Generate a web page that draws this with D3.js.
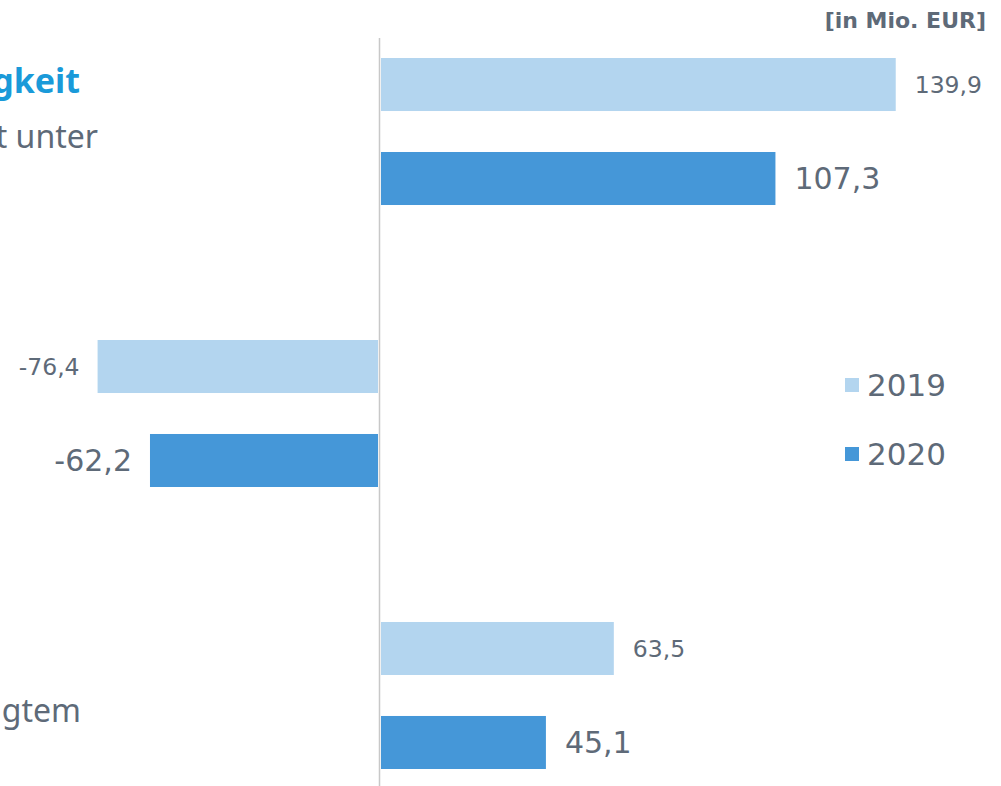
<!DOCTYPE html>
<html>
<head>
<meta charset="utf-8">
<script src="https://cdn.jsdelivr.net/npm/d3@7"></script>
<style>
  body { margin: 0; background: #fff; }
  svg { display: block; }
  text { font-family: "Noto Sans", "Open Sans", sans-serif; }
  text.num { font-family: "DejaVu Sans", sans-serif; }
</style>
</head>
<body>
<figure id="chart" style="margin:0"></figure>
<script>
const categories = ["Operativ", "Investition", "Free"];
const series = ["2019", "2020"];
const values2019 = [139.9, -76.4, 63.5];
const values2020 = [107.3, -62.2, 45.1];
const unitLabel = "[in Mio. EUR]";
// left-hand text block, cut off by the picture's left edge
const headingLines = ["Cashflow aus laufender Geschäftstätigkeit"];
const noteLines = ["Mittelzufluss aus laufender Geschäftstätigkeit liegt unter", "Free Cashflow mit bereinigtem"];

const width = 1001, height = 786;
const colors = { "2019": "#b3d5ef", "2020": "#4597d8" };
const textGray = "#5e6a78";

const data = categories.map((c, i) => ({ cat: c, "2019": values2019[i], "2020": values2020[i] }));

const svg = d3.select("figure#chart")
  .append("svg")
  .attr("width", width)
  .attr("height", height);

const x = d3.scaleLinear()
  .domain([-100, 150])
  .range([10.5, 933]);

const y = d3.scaleBand()
  .domain(categories)
  .range([-9.5, 836.5])
  .paddingInner(0.4787)
  .paddingOuter(0.2394);

const ySub = d3.scaleBand()
  .domain(series)
  .range([0, y.bandwidth()])
  .paddingInner(0.436)
  .paddingOuter(0);

const fmt = v => d3.format(".1f")(v).replace(".", ",").replace("\u2212", "-");

// zero line
svg.append("line")
  .attr("x1", x(0)).attr("x2", x(0))
  .attr("y1", 38).attr("y2", height)
  .attr("stroke", "#c8c8c8")
  .attr("stroke-width", 1.5);

const groups = svg.append("g")
  .selectAll("g")
  .data(data)
  .enter().append("g")
  .attr("transform", d => "translate(0," + y(d.cat) + ")");

const bars = groups.selectAll("g")
  .data(d => series.map(s => ({ key: s, value: d[s] })))
  .enter().append("g");

bars.append("rect")
  .attr("x", d => d.value >= 0 ? x(0) + 1.5 : x(d.value))
  .attr("y", d => ySub(d.key))
  .attr("width", d => Math.abs(x(d.value) - x(0)) - 1.5)
  .attr("height", ySub.bandwidth())
  .attr("fill", d => colors[d.key]);

bars.append("text")
  .attr("class", "num")
  .attr("x", d => d.value >= 0 ? x(d.value) + 19 : x(d.value) - 18)
  .attr("y", d => ySub(d.key) + ySub.bandwidth() / 2)
  .attr("dy", "0.36em")
  .attr("text-anchor", d => d.value >= 0 ? "start" : "end")
  .attr("font-size", d => d.key === "2019" ? 23.5 : 30)
  .attr("fill", textGray)
  .text(d => fmt(d.value));

// unit label
svg.append("text")
  .attr("class", "num")
  .attr("x", 986).attr("y", 28)
  .attr("text-anchor", "end")
  .attr("font-size", 22)
  .attr("font-weight", "bold")
  .attr("fill", textGray)
  .text(unitLabel);

// left text block
svg.append("text")
  .attr("x", 80).attr("y", 93)
  .attr("text-anchor", "end")
  .attr("font-size", 34)
  .attr("font-weight", "bold")
  .attr("fill", "#1a9ad9")
  .text(headingLines[0]);

svg.append("text")
  .attr("x", 98).attr("y", 148)
  .attr("text-anchor", "end")
  .attr("font-size", 32)
  .attr("fill", textGray)
  .text(noteLines[0]);

svg.append("text")
  .attr("x", 81).attr("y", 722)
  .attr("text-anchor", "end")
  .attr("font-size", 32)
  .attr("fill", textGray)
  .text(noteLines[1]);

// legend
const legend = svg.append("g")
  .selectAll("g")
  .data(series)
  .enter().append("g")
  .attr("transform", (d, i) => "translate(845," + (378 + i * 69) + ")");

legend.append("rect")
  .attr("width", 14).attr("height", 14)
  .attr("fill", d => colors[d]);

legend.append("text")
  .attr("class", "num")
  .attr("x", 22).attr("y", 7)
  .attr("dy", "0.36em")
  .attr("font-size", 31)
  .attr("fill", textGray)
  .text(d => d);
</script>
</body>
</html>
